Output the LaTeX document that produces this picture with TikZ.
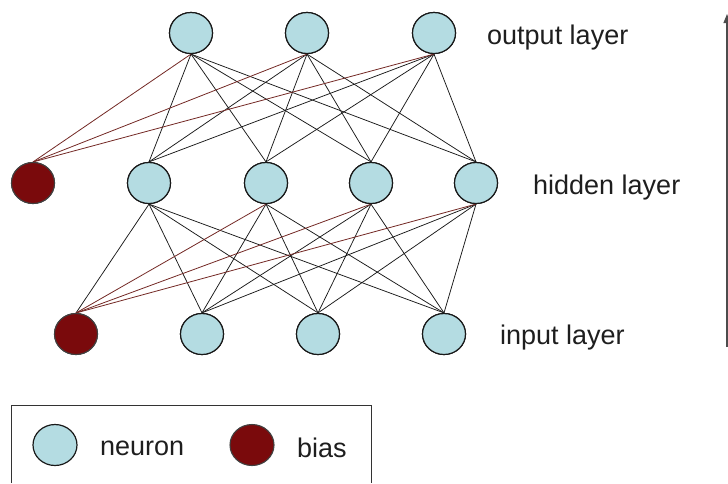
\documentclass[tikz,border=0pt]{standalone}
\usepackage{fontspec}
\setmainfont{Liberation Sans}
\usetikzlibrary{arrows.meta,shapes.geometric}
\definecolor{neuronfill}{RGB}{180,220,226}
\definecolor{biasfill}{RGB}{122,10,12}
\definecolor{biasline}{RGB}{115,40,36}
\definecolor{txt}{RGB}{30,30,30}
\begin{document}
\begin{tikzpicture}[x=1pt,y=-1pt,
  neuron/.style={ellipse,draw=black!90,line width=1.2pt,fill=neuronfill,minimum width=43pt,minimum height=41pt,inner sep=0pt},
  biasnode/.style={ellipse,draw=black!75,line width=1.1pt,fill=biasfill,minimum width=43pt,minimum height=41pt,inner sep=0pt},
  wire/.style={draw=black!90,line width=0.75pt},
  biaswire/.style={draw=biasline,line width=0.8pt},
  lbl/.style={font=\fontsize{27}{30}\selectfont,text=txt,inner sep=0pt,anchor=west}]
\useasboundingbox (0,0) rectangle (728,483);
% output layer
\node[neuron] (o1) at (191,33) {};
\node[neuron] (o2) at (307,33) {};
\node[neuron] (o3) at (434,33) {};
% hidden layer
\node[biasnode] (hb) at (33,183) {};
\node[neuron] (h1) at (149,183) {};
\node[neuron] (h2) at (266,183) {};
\node[neuron] (h3) at (371,183) {};
\node[neuron] (h4) at (476,183) {};
% input layer
\node[biasnode] (ib) at (76,334) {};
\node[neuron] (i1) at (202,334) {};
\node[neuron] (i2) at (318,334) {};
\node[neuron] (i3) at (444,334) {};
% connections output-hidden
\foreach \o in {o1,o2,o3}{
  \foreach \h in {h1,h2,h3,h4}{
    \draw[wire] (\o.south) -- (\h.north);
  }
  \draw[biaswire] (hb.north) -- (\o.south);
}
% connections hidden-input
\foreach \h in {h1,h2,h3,h4}{
  \foreach \i in {i1,i2,i3}{
    \draw[wire] (\h.south) -- (\i.north);
  }
}
\draw[wire] (ib.north) -- (h1.south);
\foreach \h in {h2,h3,h4}{
  \draw[biaswire] (ib.north) -- (\h.south);
}
% redraw nodes on top
\foreach \n/\s in {o1/neuron,o2/neuron,o3/neuron,h1/neuron,h2/neuron,h3/neuron,h4/neuron,i1/neuron,i2/neuron,i3/neuron,hb/biasnode,ib/biasnode}{
  \node[\s] at (\n) {};
}
% labels
\node[lbl] (lo) at (487,38) {output layer};
\node[lbl] (lh) at (533,188) {hidden layer};
\node[lbl] (li) at (500,338) {input layer};
% arrow
\coordinate (abot) at (727,347);
\coordinate (atop) at (727,14);
\draw[draw=black!70,line width=1.2pt,-{Triangle[length=9pt,width=7pt]}] (abot) -- (atop);
% legend
\draw[black!80,line width=1pt] (11,483) -- (11,405) -- (371,405) -- (371,483);
\node[neuron,minimum width=44pt] (ln) at (55,445) {};
\node[lbl] (lnt) at (100,448) {neuron};
\node[biasnode,minimum width=44pt] (lb) at (252,445) {};
\node[lbl] (lbt) at (297,448) {bias};
\end{tikzpicture}
\end{document}
